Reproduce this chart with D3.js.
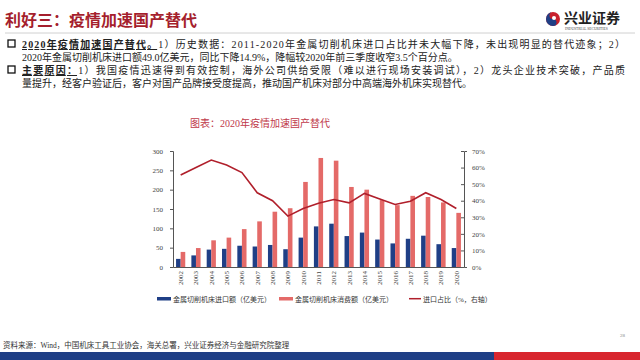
<!DOCTYPE html>
<html>
<head>
<meta charset="utf-8">
<script src="https://cdn.jsdelivr.net/npm/d3@7"></script>
<style>
  body { margin: 0; background: #fff; }
  svg { display: block; }
  .serif { font-family: "Liberation Serif", "Noto Sans CJK SC", serif; }
</style>
</head>
<body>
<div id="page"></div>
<script>
// data
var years = ["2002", "2003", "2004", "2005", "2006", "2007", "2008", "2009", "2010", "2011",
             "2012", "2013", "2014", "2015", "2016", "2017", "2018", "2019", "2020"];
var importVal = [21, 30, 45, 47, 55, 53, 57, 46, 76, 105, 112, 80, 89, 71, 61, 73, 81, 59, 49];
var consumeVal = [39, 49, 69, 76, 98, 118, 143, 152, 220, 282, 275, 207, 200, 173, 160, 184, 181, 167, 140];
var importShare = [0.555, 0.60, 0.645, 0.615, 0.57, 0.448, 0.40, 0.307, 0.353, 0.385,
                   0.407, 0.387, 0.444, 0.41, 0.377, 0.397, 0.448, 0.407, 0.353];
var leftTicks = [0, 50, 100, 150, 200, 250, 300];
var rightTicks = [0, 0.1, 0.2, 0.3, 0.4, 0.5, 0.6, 0.7];
var legendNames = ["金属切削机床进口额（亿美元）", "金属切削机床消费额（亿美元）", "进口占比（%，右轴）"];

var W = 640, H = 360;
var blue = "#1f3f86", salmon = "#e46a68", lineRed = "#b01f2b";

var svg = d3.select("#page").append("svg").attr("width", W).attr("height", H);

// ---- page header ----
svg.append("text").attr("x", 5).attr("y", 26)
    .attr("font-family", "Noto Sans CJK SC").attr("font-size", 16).attr("font-weight", "bold")
    .attr("fill", "#a51f2d").text("利好三：疫情加速国产替代");

svg.append("line").attr("x1", 5).attr("x2", 635).attr("y1", 33).attr("y2", 33)
    .attr("stroke", "#d0d0d0").attr("stroke-width", 1);

// logo
var logo = svg.append("g").attr("transform", "translate(553,19)");
logo.append("circle").attr("r", 7).attr("fill", "#c8202c");
logo.append("path").attr("d", "M0,-7 A7,7 0 0,0 0,7 A3.5,3.5 0 0,0 0,0 A3.5,3.5 0 0,1 0,-7Z").attr("fill", "#1f3f86");
logo.append("circle").attr("r", 2).attr("cx", 1).attr("cy", -1).attr("fill", "#fff");
svg.append("text").attr("x", 564).attr("y", 23)
    .attr("font-family", "Noto Sans CJK SC").attr("font-size", 14).attr("font-weight", "bold")
    .attr("fill", "#222").text("兴业证券");
svg.append("text").attr("x", 565).attr("y", 30).attr("class", "serif")
    .attr("font-size", 3.6).attr("fill", "#444").text("INDUSTRIAL SECURITIES");

// ---- bullet text (lines 1 and 3 are justified) ----
var para = [
  {y: 48, box: true, bold: "2020年疫情加速国产替代。", rest: "1）历史数据：2011-2020年金属切削机床进口占比并未大幅下降，未出现明显的替代迹象；2）", len: 603},
  {y: 61, box: false, bold: "", rest: "2020年金属切削机床进口额49.0亿美元，同比下降14.9%，降幅较2020年前三季度收窄3.5个百分点。", len: 0},
  {y: 74, box: true, bold: "主要原因：", rest: "1）我国疫情迅速得到有效控制，海外公司供给受限（难以进行现场安装调试），2）龙头企业技术突破，产品质", len: 603},
  {y: 87, box: false, bold: "", rest: "量提升，经客户验证后，客户对国产品牌接受度提高，推动国产机床对部分中高端海外机床实现替代。", len: 0}
];
para.forEach(function(p) {
    if (p.box) {
        svg.append("rect").attr("x", 8).attr("y", p.y - 8).attr("width", 7).attr("height", 7)
            .attr("fill", "none").attr("stroke", "#111").attr("stroke-width", 1.3);
    }
    var t = svg.append("text").attr("x", 22).attr("y", p.y).attr("class", "serif")
        .attr("font-size", 10).attr("fill", "#222");
    if (p.len) t.attr("textLength", p.len).attr("lengthAdjust", "spacing");
    if (p.bold) {
        t.append("tspan").attr("font-weight", "bold").attr("text-decoration", "underline").text(p.bold);
    }
    t.append("tspan").text(p.rest);
});

// ---- chart title ----
svg.append("text").attr("x", 190).attr("y", 127).attr("class", "serif")
    .attr("font-size", 10).attr("fill", "#c0394a").text("图表：2020年疫情加速国产替代");

// ---- chart ----
var plot = {left: 173, right: 464, top: 151, bottom: 267};

var x = d3.scaleBand().domain(years).range([plot.left, plot.right])
    .paddingInner(0.4).paddingOuter(0.2);
var yL = d3.scaleLinear().domain([0, 300]).range([plot.bottom, plot.top]);
var yR = d3.scaleLinear().domain([0, 0.7]).range([plot.bottom, plot.top]);

var half = x.bandwidth() / 2;

svg.append("g").selectAll("rect").data(years).enter().append("rect")
    .attr("x", function(d) { return x(d); })
    .attr("y", function(d, i) { return yL(importVal[i]); })
    .attr("width", half)
    .attr("height", function(d, i) { return yL(0) - yL(importVal[i]); })
    .attr("fill", blue);

svg.append("g").selectAll("rect").data(years).enter().append("rect")
    .attr("x", function(d) { return x(d) + half; })
    .attr("y", function(d, i) { return yL(consumeVal[i]); })
    .attr("width", half)
    .attr("height", function(d, i) { return yL(0) - yL(consumeVal[i]); })
    .attr("fill", salmon);

var line = d3.line()
    .x(function(d, i) { return x(years[i]) + x.bandwidth() / 2; })
    .y(function(d) { return yR(d); });

svg.append("path").datum(importShare).attr("d", line)
    .attr("fill", "none").attr("stroke", lineRed).attr("stroke-width", 1.6);

// axes
var axL = svg.append("g").attr("class", "serif").attr("transform", "translate(" + plot.left + ",0)")
    .call(d3.axisLeft(yL).tickValues(leftTicks).tickSize(3).tickPadding(7));
var axR = svg.append("g").attr("class", "serif").attr("transform", "translate(" + plot.right + ",0)")
    .call(d3.axisRight(yR).tickValues(rightTicks).tickSize(3).tickPadding(5)
        .tickFormat(d3.format(".0%")));
var axB = svg.append("g").attr("class", "serif").attr("transform", "translate(0," + plot.bottom + ")")
    .call(d3.axisBottom(x).tickSize(0).tickPadding(4));

[axL, axR, axB].forEach(function(a) {
    a.selectAll("path.domain").attr("stroke", "#555");
    a.selectAll(".tick line").attr("stroke", "#555");
    a.selectAll("text").attr("font-size", 7).attr("fill", "#444")
        .attr("font-family", "Liberation Serif");
});
axR.selectAll(".tick line").attr("x2", -3);
axB.selectAll(".tick text")
    .attr("text-anchor", "end")
    .attr("x", 0).attr("y", 0).attr("dy", "0.35em")
    .attr("transform", "translate(0,4) rotate(-90)");

// legend
var legendX = [157, 279, 409];
var legend = svg.append("g").attr("class", "serif");
legendNames.forEach(function(name, i) {
    var g = legend.append("g").attr("transform", "translate(" + legendX[i] + ",302)");
    if (i < 2) {
        g.append("rect").attr("x", 0).attr("y", -5).attr("width", 14).attr("height", 3.5)
            .attr("fill", i === 0 ? blue : salmon);
    } else {
        g.append("line").attr("x1", 0).attr("x2", 12).attr("y1", -3.3).attr("y2", -3.3)
            .attr("stroke", lineRed).attr("stroke-width", 1.5);
    }
    g.append("text").attr("x", i < 2 ? 16 : 14).attr("y", 0)
        .attr("font-size", 7).attr("fill", "#333").text(name);
});

// ---- footer ----
svg.append("text").attr("x", 620).attr("y", 337).attr("class", "serif")
    .attr("font-size", 5).attr("fill", "#888").text("28");
svg.append("text").attr("x", 3).attr("y", 348).attr("class", "serif")
    .attr("font-size", 7.5).attr("fill", "#333")
    .text("资料来源：Wind，中国机床工具工业协会，海关总署，兴业证券经济与金融研究院整理");
svg.append("rect").attr("x", 0).attr("y", 352).attr("width", 494).attr("height", 8).attr("fill", "#1f3f86");
svg.append("rect").attr("x", 494).attr("y", 352).attr("width", 146).attr("height", 8).attr("fill", "#d8262e");
</script>
</body>
</html>
